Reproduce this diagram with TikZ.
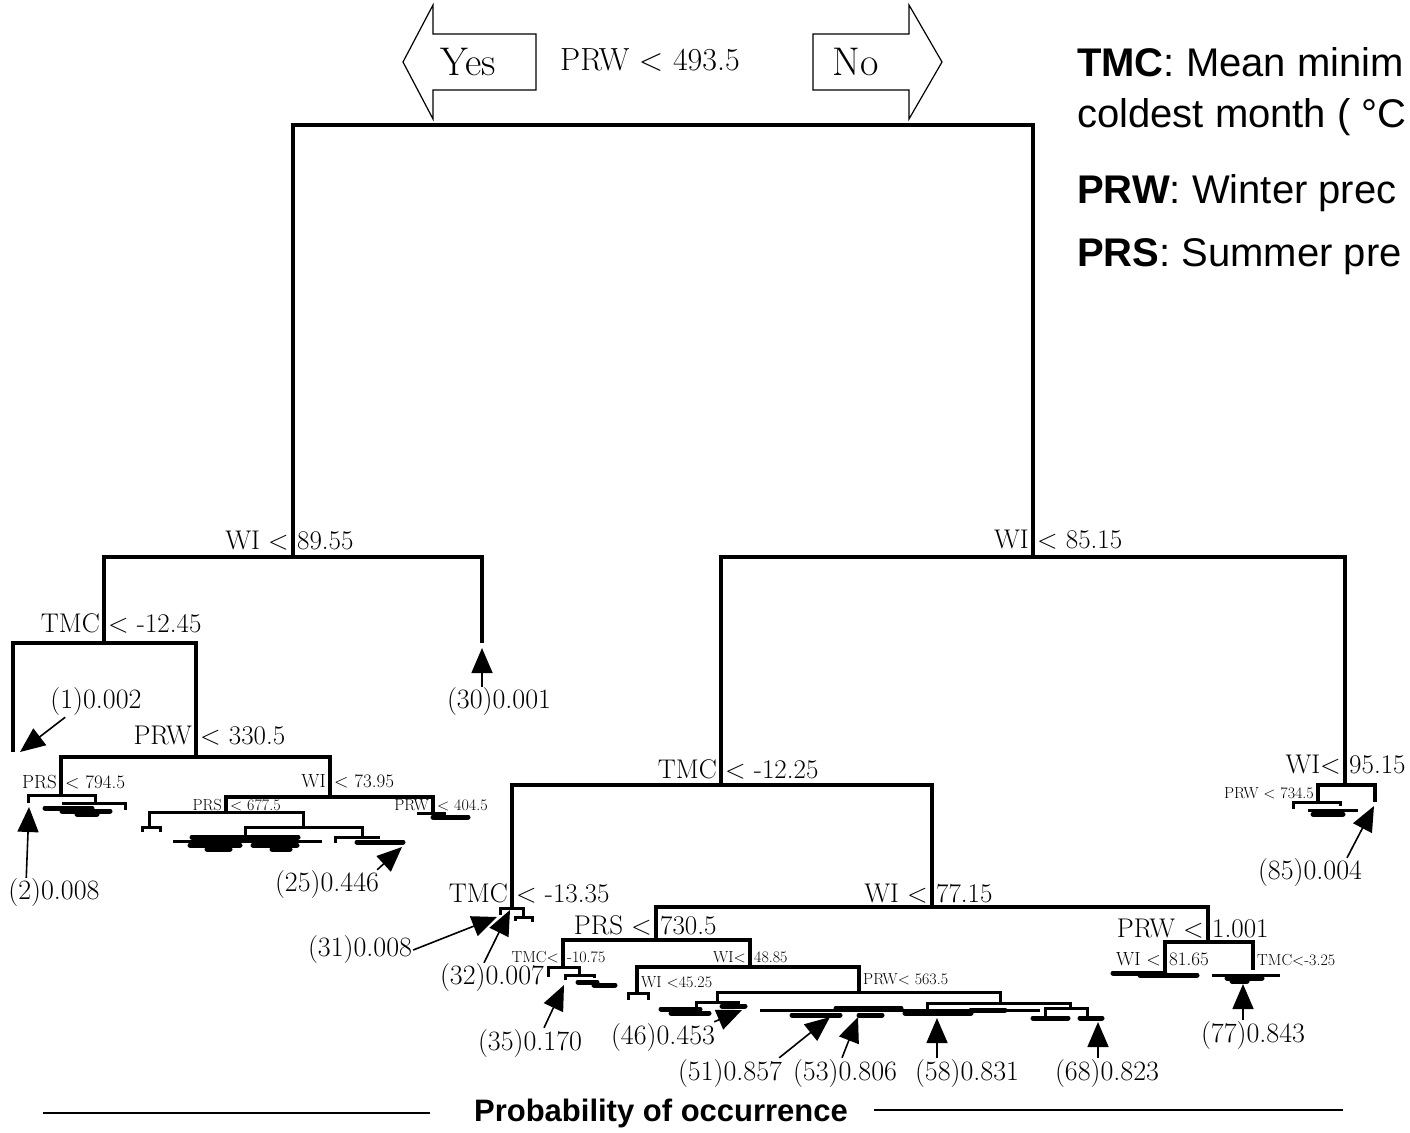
\documentclass[tikz,border=0pt]{standalone}
\usepackage{fontspec}
\newfontfamily\legendfont{Liberation Sans}
\usetikzlibrary{arrows.meta, positioning}

\begin{document}
\begin{tikzpicture}[x=1pt, y=-1pt,
    tree/.style={line width=3.8pt, line join=miter},
    twig/.style={line width=3pt, line join=miter},
    blob/.style={line width=5pt, line cap=round},
    lab/.style={font=\fontsize{27}{30}\selectfont, inner sep=0pt},
    midlab/.style={font=\fontsize{19}{21}\selectfont, inner sep=0pt},
    smalllab/.style={font=\fontsize{16}{18}\selectfont, inner sep=0pt},
    lleft/.style={anchor=base east, xshift=-4pt, yshift=#1},
    lright/.style={anchor=base west, xshift=4pt, yshift=#1},
    leaf/.style={font=\fontsize{28}{30}\selectfont, inner sep=1pt},
    ptr/.style={line width=1.6pt, -{Triangle[length=25pt, width=21pt]}},
    bigarrow/.style={draw, line width=1.2pt, line join=miter},
    legend/.style={font=\legendfont\fontsize{40}{44}\selectfont, inner sep=0pt, anchor=base west}]

    \useasboundingbox (0,0) rectangle (1410,1132);

    % Yes / No arrows and the root split
    \draw[bigarrow] (403,62) -- (433,5) -- (433,34) -- (536,34) -- (536,90) -- (433,90) -- (433,119) -- cycle;
    \draw[bigarrow] (813,34) -- (909,34) -- (909,5) -- (942,62) -- (909,119) -- (909,90) -- (813,90) -- cycle;
    \node[font=\fontsize{40}{42}\selectfont] (yes) at (468,62) {Yes};
    \node[font=\fontsize{40}{42}\selectfont] (no) at (856,62) {No};
    \node[font=\fontsize{32}{34}\selectfont] (rootlab) at (650,60) {PRW < 493.5};

    % split points
    \coordinate (root) at (650,125);
    \coordinate (A) at (293,557);
    \coordinate (B) at (1033,557);
    \coordinate (A1) at (104,643);
    \coordinate (A2) at (482,643);
    \coordinate (A11) at (13,752);
    \coordinate (A12) at (196,757);
    \coordinate (A121) at (61,795);
    \coordinate (A122) at (330,797);
    \coordinate (A1221) at (226,812);
    \coordinate (A1222) at (433,813);
    \coordinate (B1) at (721,785);
    \coordinate (B2) at (1345,785);
    \coordinate (B11) at (512,908);
    \coordinate (B12) at (932,907);
    \coordinate (B121) at (656,940);
    \coordinate (B122) at (1208,942);
    \coordinate (B1211) at (563,967);
    \coordinate (B1212) at (750,967);
    \coordinate (B12121) at (637,993);
    \coordinate (B12122) at (859,992);
    \coordinate (B1221) at (1165,973);
    \coordinate (B1222) at (1253,970);
    \coordinate (B21) at (1318,802);
    \coordinate (B22) at (1375,802);

    % main branches
    \draw[tree] (A) |- (root) -| (B);
    \draw[tree] (A1) |- (A) -| (A2);
    \draw[tree] (A11) |- (A1) -| (A12);
    \draw[tree] (A121) |- (A12) -| (A122);
    \draw[tree] (A1221) |- (A122) -| (A1222);
    \draw[tree] (B1) |- (B) -| (B2);
    \draw[tree] (B11) |- (B1) -| (B12);
    \draw[tree] (B121) |- (B12) -| (B122);
    \draw[tree] (B1211) |- (B121) -| (B1212);
    \draw[tree] (B12121) |- (B1212) -| (B12122);
    \draw[tree] (B1221) |- (B122) -| (B1222);
    \draw[tree] (B21) |- (B2) -| (B22);

    % collapsed small branches
    \draw[twig] (28,803) |- (A121) -| (95,803);
    \draw[twig] (62,803) -- (125,803) -- (125,810);
    \draw[blob] (45,808) -- (92,808);
    \draw[blob] (62,811) -- (110,811);
    \draw[blob] (77,814) -- (97,814);
    \draw[twig] (149,827) |- (A1221) -| (303,827);
    \draw[twig] (142,832) |- (149,827) -| (160,832);
    \draw[twig] (245,837) |- (303,827) -| (362,837);
    \draw[blob] (192,837) -- (298,837);
    \draw[twig] (173,841) -- (322,841);
    \draw[blob] (190,845) -- (240,845);
    \draw[blob] (253,845) -- (297,845);
    \draw[blob] (207,849) -- (230,849);
    \draw[blob] (272,849) -- (290,849);
    \draw[twig] (335,843) -- (335,837) -- (380,837);
    \draw[blob] (357,842) -- (403,842);
    \draw[twig] (417,813) -- (446,813);
    \draw[blob] (433,817) -- (468,817);
    \draw[twig] (500,915) |- (B11) -| (523,917);
    \draw[twig] (515,921) |- (523,917) -| (532,922);
    \draw[twig] (548,977) |- (B1211) -| (579,975);
    \draw[twig] (565,980) |- (579,975) -| (594,978);
    \draw[blob] (578,982) -- (597,982);
    \draw[blob] (594,985) -- (615,985);
    \draw[twig] (628,1000) |- (B12121) -| (648,1000);
    \draw[twig] (717,1002) |- (B12122) -| (1000,1003);
    \draw[twig] (696,1008) |- (717,1002) -| (738,1006);
    \draw[blob] (661,1009) -- (700,1009);
    \draw[blob] (671,1013) -- (709,1013);
    \draw[blob] (722,1006) -- (745,1006);
    \draw[twig] (927,1010) |- (1000,1003) -| (1070,1008);
    \draw[twig] (760,1010) -- (1040,1010);
    \draw[blob] (836,1008) -- (901,1008);
    \draw[blob] (792,1015) -- (840,1015);
    \draw[blob] (859,1015) -- (882,1015);
    \draw[blob] (905,1013) -- (971,1013);
    \draw[blob] (971,1010) -- (1005,1010);
    \draw[twig] (1045,1016) |- (1070,1008) -| (1087,1016);
    \draw[blob] (1033,1018) -- (1068,1018);
    \draw[blob] (1080,1018) -- (1102,1018);
    \draw[blob] (1113,973) -- (1165,973);
    \draw[blob] (1140,975) -- (1197,975);
    \draw[twig] (1212,975) -- (1280,975);
    \draw[blob] (1227,978) -- (1262,978);
    \draw[blob] (1232,981) -- (1247,981);
    \draw[twig] (1293,809) |- (B21) -| (1340,806);
    \draw[twig] (1308,810) -- (1358,810);
    \draw[blob] (1313,814) -- (1343,814);

    % split labels
    \node[lab, lleft=8pt] (labA-l) at (A) {WI <};
    \node[lab, lright=8pt] (labA-r) at (A) {89.55};
    \node[lab, lleft=9pt] (labB-l) at (B) {WI};
    \node[lab, lright=9pt] (labB-r) at (B) {< 85.15};
    \node[lab, lleft=11pt] (labA1-l) at (A1) {TMC};
    \node[lab, lright=11pt] (labA1-r) at (A1) {< -12.45};
    \node[lab, lleft=13pt] (labA12-l) at (A12) {PRW};
    \node[lab, lright=13pt] (labA12-r) at (A12) {< 330.5};
    \node[midlab, lleft=7pt] (labA121-l) at (A121) {PRS};
    \node[midlab, lright=7pt] (labA121-r) at (A121) {< 794.5};
    \node[midlab, lleft=10pt] (labA122-l) at (A122) {WI};
    \node[midlab, lright=10pt] (labA122-r) at (A122) {< 73.95};
    \node[smalllab, lleft=2pt] (labA1221-l) at (A1221) {PRS};
    \node[smalllab, lright=2pt] (labA1221-r) at (A1221) {< 677.5};
    \node[smalllab, lleft=3pt] (labA1222-l) at (A1222) {PRW};
    \node[smalllab, lright=3pt] (labA1222-r) at (A1222) {< 404.5};
    \node[lab, lleft=7pt] (labB1-l) at (B1) {TMC};
    \node[lab, lright=7pt] (labB1-r) at (B1) {< -12.25};
    \node[lab, lleft=6pt] (labB11-l) at (B11) {TMC};
    \node[lab, lright=6pt] (labB11-r) at (B11) {< -13.35};
    \node[lab, lleft=5pt] (labB12-l) at (B12) {WI <};
    \node[lab, lright=5pt] (labB12-r) at (B12) {77.15};
    \node[lab, lleft=6pt] (labB121-l) at (B121) {PRS <};
    \node[lab, lright=6pt] (labB121-r) at (B121) {730.5};
    \node[lab, lleft=5pt] (labB122-l) at (B122) {PRW <};
    \node[lab, lright=5pt] (labB122-r) at (B122) {1.001};
    \node[lab, lleft=12pt] (labB2-l) at (B2) {WI<};
    \node[lab, lright=12pt] (labB2-r) at (B2) {95.15};
    \node[smalllab, lleft=5pt] (labB1211-l) at (B1211) {TMC<};
    \node[smalllab, lright=5pt] (labB1211-r) at (B1211) {-10.75};
    \node[smalllab, lleft=5pt] (labB1212-l) at (B1212) {WI<};
    \node[smalllab, lright=5pt] (labB1212-r) at (B1212) {48.85};
    \node[smalllab, lright=6pt] (labB12121) at (B12121) {WI <45.25};
    \node[smalllab, lright=8pt] (labB12122) at (B12122) {PRW< 563.5};
    \node[midlab, lleft=8pt] (labB1221-l) at (B1221) {WI <};
    \node[midlab, lright=8pt] (labB1221-r) at (B1221) {81.65};
    \node[smalllab, lright=5pt] (labB1222) at (B1222) {TMC<-3.25};
    \node[smalllab, lleft=4pt] (labB21) at (B21) {PRW < 734.5};

    % leaves with probability
    \node[leaf] (n1) at (96,702) {(1)0.002};
    \node[leaf] (n2) at (54,893) {(2)0.008};
    \node[leaf] (n25) at (327,885) {(25)0.446};
    \node[leaf] (n30) at (499,702) {(30)0.001};
    \node[leaf] (n31) at (360,950) {(31)0.008};
    \node[leaf] (n32) at (492,978) {(32)0.007};
    \node[leaf] (n35) at (530,1043) {(35)0.170};
    \node[leaf] (n46) at (663,1037) {(46)0.453};
    \node[leaf] (n51) at (730,1073) {(51)0.857};
    \node[leaf] (n53) at (845,1073) {(53)0.806};
    \node[leaf] (n58) at (967,1073) {(58)0.831};
    \node[leaf] (n68) at (1107,1073) {(68)0.823};
    \node[leaf] (n77) at (1253,1035) {(77)0.843};
    \node[leaf] (n85) at (1310,873) {(85)0.004};

    \coordinate (t1) at (20,752);
    \coordinate (t2) at (29,807);
    \coordinate (t25) at (402,847);
    \coordinate (t30) at (482,648);
    \coordinate (t31) at (497,917);
    \coordinate (t32) at (510,910);
    \coordinate (t35) at (564,985);
    \coordinate (t46) at (742,1010);
    \coordinate (t51) at (830,1017);
    \coordinate (t53) at (858,1017);
    \coordinate (t58) at (937,1018);
    \coordinate (t68) at (1098,1022);
    \coordinate (t77) at (1243,984);
    \coordinate (t85) at (1374,806);

    \draw[ptr] ([xshift=16pt]n1.south west) -- (t1);
    \draw[ptr] ([xshift=19pt]n2.north west) -- (t2);
    \draw[ptr] ([xshift=-3pt]n25.north east) -- (t25);
    \draw[ptr] ([xshift=-17pt]n30.north) -- (t30);
    \draw[ptr] (n31.east) -- (t31);
    \draw[ptr] ([xshift=-8pt]n32.north) -- (t32);
    \draw[ptr] ([xshift=14pt]n35.north) -- (t35);
    \draw[ptr] ([xshift=-2pt]n46.north east) -- (t46);
    \draw[ptr] ([xshift=-4pt]n51.north east) -- (t51);
    \draw[ptr] ([xshift=-3pt]n53.north) -- (t53);
    \draw[ptr] ([xshift=-30pt]n58.north) -- (t58);
    \draw[ptr] ([xshift=-9pt]n68.north) -- (t68);
    \draw[ptr] ([xshift=-10pt]n77.north) -- (t77);
    \draw[ptr] ([xshift=37pt]n85.north) -- (t85);

    % legend
    \node[legend] (leg1) at (1077,77) {\bfseries TMC\mdseries: Mean minim};
    \node[legend] (leg2) at (1077,127) {coldest month ( °C};
    \node[legend] (leg3) at (1077,203) {\bfseries PRW\mdseries: Winter prec};
    \node[legend] (leg4) at (1077,266) {\bfseries PRS\mdseries: Summer pre};

    % bottom title
    \node[font=\legendfont\bfseries\fontsize{31}{34}\selectfont, inner sep=0pt] (prob) at (661,1113) {Probability of occurrence};
    \draw[line width=1.8pt] ([xshift=-44pt]prob.west) -- ++(-387,0);
    \draw[line width=1.8pt] ([xshift=26pt, yshift=3pt]prob.east) -- ++(469,0);
\end{tikzpicture}
\end{document}
